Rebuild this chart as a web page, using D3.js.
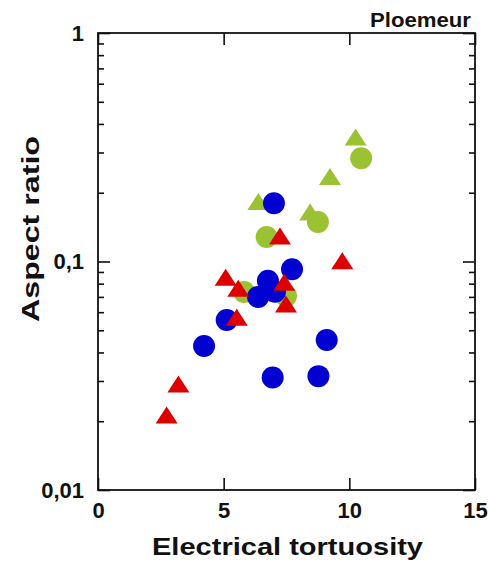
<!DOCTYPE html>
<html><head><meta charset="utf-8">
<script src="https://cdn.jsdelivr.net/npm/d3@7"></script>
<style>
html,body{margin:0;padding:0;background:#fff;}
svg{display:block;}
text{font-family:"Liberation Sans",Arial,sans-serif;font-weight:bold;fill:#111;}
</style></head>
<body>
<script>
// ---- data ----
const xTicks = [0, 5, 10, 15];
const xTickLabels = ["0", "5", "10", "15"];
const yTicks = [0.01, 0.1, 1];
const yTickLabels = ["0,01", "0,1", "1"];
const xLabel = "Electrical tortuosity";
const yLabel = "Aspect ratio";
const title = "Ploemeur";

const greenTriX = [10.25, 9.23, 6.38, 8.44];
const greenTriY = [0.347, 0.233, 0.181, 0.163];
const greenCircX = [10.47, 8.75, 6.71, 5.81, 7.48];
const greenCircY = [0.283, 0.149, 0.128, 0.0735, 0.0706];
const blueCircX = [7.00, 7.72, 6.76, 6.37, 7.04, 5.12, 4.22, 9.10, 6.95, 8.77];
const blueCircY = [0.180, 0.0924, 0.0824, 0.070, 0.0738, 0.0555, 0.0427, 0.0453, 0.0311, 0.0315];
const redTriX = [7.24, 9.72, 5.08, 5.58, 7.41, 7.48, 5.52, 3.20, 2.73];
const redTriY = [0.128, 0.0998, 0.0844, 0.0756, 0.0803, 0.0645, 0.0564, 0.0288, 0.0211];

const W = 489, H = 568;
const L = 98, R = 475, T = 33, B = 490;
const GREEN = "#9bc232", BLUE = "#0000d0", RED = "#dd0000";

const svg = d3.select("body").append("svg").attr("width", W).attr("height", H);
const x = d3.scaleLinear().domain([0, 15]).range([L, R]);
const y = d3.scaleLog().domain([0.01, 1]).range([B, T]);

const minor = [];
[0.01, 0.1].forEach(d => { for (let k = 2; k <= 9; k++) minor.push(d * k); });

function styleAxis(g) {
  g.select(".domain").remove();
  g.selectAll(".tick line").attr("stroke", "#111").attr("stroke-width", 1.6);
}
function styleText(g) {
  g.selectAll("text").attr("font-size", 22).attr("font-family", "Liberation Sans, Arial, sans-serif")
    .attr("font-weight", "bold").attr("fill", "#111");
}
// x axes
svg.append("g").attr("transform", `translate(0,${B})`)
  .call(d3.axisBottom(x).tickValues(xTicks).tickSize(-12).tickPadding(12)
    .tickFormat((d, i) => xTickLabels[i]))
  .call(styleAxis).call(styleText);
svg.append("g").attr("transform", `translate(0,${T})`)
  .call(d3.axisTop(x).tickValues(xTicks).tickSize(-12).tickFormat(""))
  .call(styleAxis);
// y axes
svg.append("g").attr("transform", `translate(${L},0)`)
  .call(d3.axisLeft(y).tickValues(yTicks).tickSize(-12).tickPadding(14)
    .tickFormat((d, i) => yTickLabels[i]))
  .call(styleAxis).call(styleText);
svg.append("g").attr("transform", `translate(${L},0)`)
  .call(d3.axisLeft(y).tickValues(minor).tickSize(-6).tickFormat(""))
  .call(styleAxis);
svg.append("g").attr("transform", `translate(${R},0)`)
  .call(d3.axisRight(y).tickValues(yTicks).tickSize(-12).tickFormat(""))
  .call(styleAxis);
svg.append("g").attr("transform", `translate(${R},0)`)
  .call(d3.axisRight(y).tickValues(minor).tickSize(-6).tickFormat(""))
  .call(styleAxis);

// frame
svg.append("rect").attr("x", L).attr("y", T).attr("width", R - L).attr("height", B - T)
  .attr("fill", "none").attr("stroke", "#111").attr("stroke-width", 1.8);

// marks
const tri = "M0,-9.5L11,7.5L-11,7.5Z";
function circles(xs, ys, col) {
  svg.append("g").selectAll("circle").data(xs.map((v, i) => [v, ys[i]])).join("circle")
    .attr("cx", d => x(d[0])).attr("cy", d => y(d[1])).attr("r", 11).attr("fill", col);
}
function triangles(xs, ys, col) {
  svg.append("g").selectAll("path").data(xs.map((v, i) => [v, ys[i]])).join("path")
    .attr("d", tri).attr("transform", d => `translate(${x(d[0])},${y(d[1])})`).attr("fill", col);
}
circles(greenCircX, greenCircY, GREEN);
triangles(greenTriX, greenTriY, GREEN);
circles(blueCircX, blueCircY, BLUE);
triangles(redTriX, redTriY, RED);

// labels
svg.append("text").attr("x", (L + R) / 2 + 1).attr("y", 555).attr("text-anchor", "middle")
  .attr("font-size", 24).attr("textLength", 271).attr("lengthAdjust", "spacingAndGlyphs").text(xLabel);
svg.append("text").attr("transform", `translate(39,229) rotate(-90)`).attr("text-anchor", "middle")
  .attr("font-size", 24).attr("textLength", 186).attr("lengthAdjust", "spacingAndGlyphs").text(yLabel);
svg.append("text").attr("x", 471).attr("y", 27).attr("text-anchor", "end")
  .attr("font-size", 20).attr("textLength", 101).attr("lengthAdjust", "spacingAndGlyphs").text(title);
</script>
</body></html>
